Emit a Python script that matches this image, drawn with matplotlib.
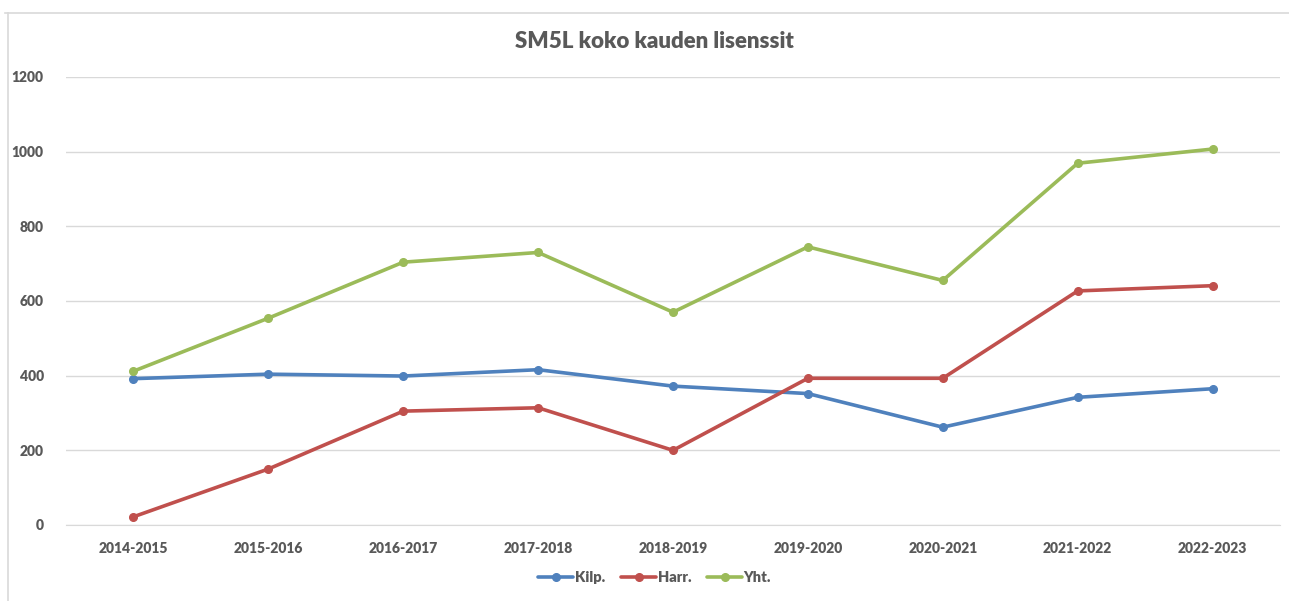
import matplotlib
matplotlib.use('Agg')
import matplotlib.pyplot as plt
from matplotlib.lines import Line2D

seasons = ['2014-2015', '2015-2016', '2016-2017', '2017-2018', '2018-2019',
           '2019-2020', '2020-2021', '2021-2022', '2022-2023']
kilp = [392, 404, 399, 416, 372, 352, 262, 342, 365]
harr = [22, 150, 305, 314, 200, 393, 393, 627, 641]
yht = [412, 554, 704, 730, 570, 745, 655, 969, 1007]
yticks = [0, 200, 400, 600, 800, 1000, 1200]

series = [('Kilp.', kilp, '#4F81BD'), ('Harr.', harr, '#C0504D'), ('Yht.', yht, '#9BBB59')]
textColor = '#595959'
plt.rcParams['font.family'] = ['Lato', 'DejaVu Sans']

fig = plt.figure(figsize=(12.89, 6.01), dpi=100)
ax = fig.add_axes([66 / 1289, 1 - 525 / 601, (1280 - 66) / 1289, (525 - 77) / 601])

x = list(range(len(seasons)))
for name, vals, color in series:
    ax.plot(x, vals, color=color, lw=2.6, marker='o', markersize=5.5, label=name,
            solid_joinstyle='round', solid_capstyle='round')

ax.set_xlim(-0.5, len(seasons) - 0.5)
ax.set_ylim(0, 1200)
ax.set_yticks(yticks)
ax.set_xticks(x)
ax.set_xticklabels(seasons)
ax.grid(axis='y', color='#D9D9D9', lw=1)
ax.set_axisbelow(True)
for s in ['top', 'right', 'left']:
    ax.spines[s].set_visible(False)
ax.spines['bottom'].set_color('#D9D9D9')
ax.tick_params(length=0, labelsize=10, labelcolor=textColor)
ax.tick_params(axis='y', pad=16)
ax.tick_params(axis='x', pad=12)
for lab in ax.get_xticklabels() + ax.get_yticklabels():
    lab.set_fontweight('heavy')

fig.text(0.508, 1 - 42 / 601, 'SM5L koko kauden lisenssit', ha='center', va='center',
         fontsize=16, fontweight='heavy', color=textColor)

leg = fig.legend(loc='center', bbox_to_anchor=(0.508, 1 - 578 / 601), ncol=3, frameon=False,
                 handlelength=2.4, columnspacing=1.1, handletextpad=0.1,
                 prop={'weight': 'heavy', 'size': 10.5})
for t in leg.get_texts():
    t.set_color(textColor)

# sheet border lines of the screenshot
fig.add_artist(Line2D([5 / 1289, 1], [1 - 13 / 601, 1 - 13 / 601], color='#D9D9D9', lw=1.2))
fig.add_artist(Line2D([8 / 1289, 8 / 1289], [0, 1 - 13 / 601], color='#D9D9D9', lw=1.2))

fig.savefig('out.png', dpi=100)
